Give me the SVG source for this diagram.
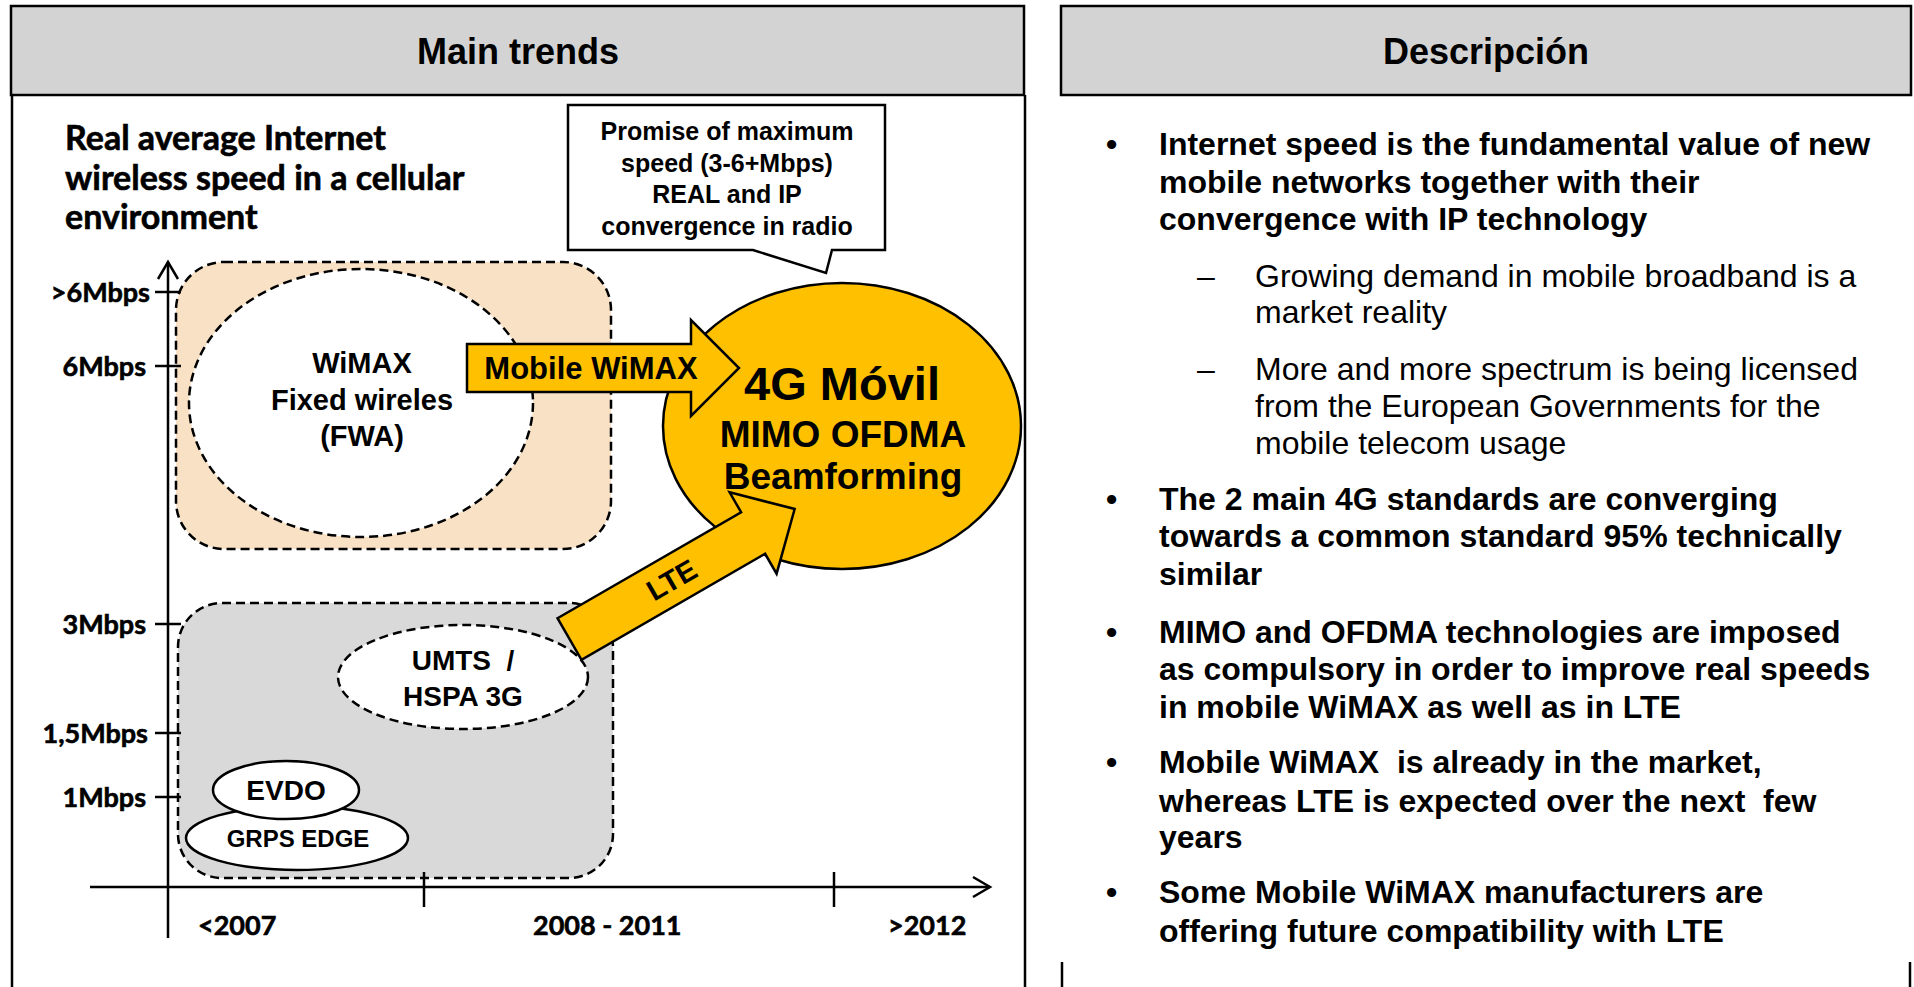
<svg xmlns="http://www.w3.org/2000/svg" width="1914" height="987" viewBox="0 0 1914 987" xml:space="preserve">
<style>
text{white-space:pre}
.hdr{fill:#D3D3D3;stroke:#000;stroke-width:2.5}
.ht{font-family:"Liberation Sans",Arial,sans-serif;font-weight:bold;font-size:36px;text-anchor:middle;fill:#000}
.ar{font-family:"Liberation Sans",Arial,sans-serif;font-weight:bold;fill:#000;text-anchor:middle}
.cal{font-family:Lato,"Open Sans",sans-serif;font-weight:bold;fill:#000;stroke:#000;stroke-width:0.6}
.dash{stroke:#000;stroke-width:2.5;stroke-dasharray:9 5}
.ln{stroke:#000;stroke-width:2.5;fill:none}
.org{fill:#FFC000;stroke:#000;stroke-width:2.5;stroke-linejoin:miter}
.bt{font-family:"Liberation Sans",Arial,sans-serif;font-weight:bold;font-size:32px;fill:#000}
.rt{font-family:"Liberation Sans",Arial,sans-serif;font-size:32px;fill:#000}
</style>
<rect width="1914" height="987" fill="#fff"/>

<g id="left-panel">
  <rect class="hdr" x="11" y="6" width="1013" height="89"/>
  <text class="ht" x="518" y="64">Main trends</text>
  <line class="ln" x1="12" y1="95" x2="12" y2="987"/>
  <line class="ln" x1="1025" y1="95" x2="1025" y2="987"/>
</g>

<g id="right-panel">
  <rect class="hdr" x="1061" y="6" width="850" height="89"/>
  <text class="ht" x="1486" y="64">Descripción</text>
  <line class="ln" x1="1062" y1="962" x2="1062" y2="987"/>
  <line class="ln" x1="1910" y1="962" x2="1910" y2="987"/>
</g>

<g id="chart-title">
  <text class="cal" font-size="34" x="65" y="150">Real average Internet</text>
  <text class="cal" font-size="34" x="65" y="190">wireless speed in a cellular</text>
  <text class="cal" font-size="34" x="65" y="229">environment</text>
</g>

<g id="region-wimax">
  <rect x="176" y="262" width="435" height="287" rx="48" ry="48" fill="#F8E1C4" class="dash"/>
</g>
<g id="node-wimax">
  <ellipse cx="361" cy="403" rx="172" ry="134" fill="#fff" class="dash"/>
  <text class="ar" font-size="29" x="362" y="373">WiMAX</text>
  <text class="ar" font-size="29" x="362" y="410">Fixed wireles</text>
  <text class="ar" font-size="29" x="362" y="446">(FWA)</text>
</g>

<g id="region-3g">
  <rect x="178" y="603" width="435" height="275" rx="44" ry="44" fill="#D9D9D9" class="dash"/>
</g>
<g id="node-umts">
  <ellipse cx="463" cy="677" rx="125" ry="52" fill="#fff" class="dash"/>
  <text class="ar" font-size="28" x="463" y="670">UMTS  /</text>
  <text class="ar" font-size="28" x="463" y="706">HSPA 3G</text>
</g>
<g id="node-grps">
  <ellipse cx="297" cy="838" rx="111" ry="32" fill="#fff" stroke="#000" stroke-width="2.5"/>
  <text class="ar" font-size="24" x="298" y="847">GRPS EDGE</text>
</g>
<g id="node-evdo">
  <ellipse cx="286" cy="790" rx="73" ry="29" fill="#fff" stroke="#000" stroke-width="2.5"/>
  <text class="ar" font-size="28" x="286" y="800">EVDO</text>
</g>

<g id="axes">
  <line class="ln" x1="168" y1="262" x2="168" y2="938"/>
  <polyline class="ln" points="158,279 168,262 178,279"/>
  <line class="ln" x1="90" y1="887" x2="990" y2="887"/>
  <polyline class="ln" points="973,877 990,887 973,897"/>
  <line class="ln" x1="424" y1="872" x2="424" y2="907"/>
  <line class="ln" x1="834" y1="872" x2="834" y2="907"/>
  <line class="ln" x1="155" y1="292" x2="181" y2="292"/>
  <line class="ln" x1="155" y1="366" x2="181" y2="366"/>
  <line class="ln" x1="155" y1="624" x2="181" y2="624"/>
  <line class="ln" x1="155" y1="733" x2="181" y2="733"/>
  <line class="ln" x1="155" y1="797" x2="181" y2="797"/>
  <g class="cal" font-size="27" text-anchor="end">
    <text x="150" y="302">&gt;6Mbps</text>
    <text x="146" y="376">6Mbps</text>
    <text x="146" y="634">3Mbps</text>
    <text x="148" y="743">1,5Mbps</text>
    <text x="146" y="807">1Mbps</text>
  </g>
  <g class="cal" font-size="27">
    <text x="198" y="935">&lt;2007</text>
    <text x="533" y="935">2008 - 2011</text>
    <text x="888" y="935">&gt;2012</text>
  </g>
</g>

<g id="node-callout">
  <polygon points="568,105 885,105 885,250 832,250 826,273 753,250 568,250" fill="#fff" stroke="#000" stroke-width="2.5"/>
  <text class="ar" font-size="25" x="727" y="140">Promise of maximum</text>
  <text class="ar" font-size="25" x="727" y="172">speed (3-6+Mbps)</text>
  <text class="ar" font-size="25" x="727" y="203">REAL and IP</text>
  <text class="ar" font-size="25" x="727" y="235">convergence in radio</text>
</g>

<g id="node-4g">
  <ellipse cx="842" cy="426" rx="179" ry="143" fill="#FFC000" stroke="#000" stroke-width="2.5"/>
</g>

<g id="connectors">
  <polygon class="org" points="467,344 691,344 691,320 739,368 691,416 691,392 467,392"/>
  <text class="ar" font-size="31" x="591" y="379">Mobile WiMAX</text>
  <g transform="translate(569.5,639) rotate(-30)">
    <polygon class="org" points="0,-24 212,-24 212,-47 260,0 212,47 212,24 0,24"/>
    <text class="ar" font-size="29" x="118" y="10">LTE</text>
  </g>
</g>

<g id="node-4g-label">
  <text class="ar" font-size="47" x="842" y="400">4G Móvil</text>
  <text class="ar" font-size="37" x="843" y="447">MIMO OFDMA</text>
  <text class="ar" font-size="37" x="843" y="489">Beamforming</text>
</g>

<g id="description">
  <text class="bt" x="1106" y="155">•</text>
  <text class="bt" x="1159" y="155">Internet speed is the fundamental value of new</text>
  <text class="bt" x="1159" y="193">mobile networks together with their</text>
  <text class="bt" x="1159" y="230">convergence with IP technology</text>
  <text class="rt" x="1197" y="287">–</text>
  <text class="rt" x="1255" y="287">Growing demand in mobile broadband is a</text>
  <text class="rt" x="1255" y="323">market reality</text>
  <text class="rt" x="1197" y="380">–</text>
  <text class="rt" x="1255" y="380">More and more spectrum is being licensed</text>
  <text class="rt" x="1255" y="417">from the European Governments for the</text>
  <text class="rt" x="1255" y="454">mobile telecom usage</text>
  <text class="bt" x="1106" y="510">•</text>
  <text class="bt" x="1159" y="510">The 2 main 4G standards are converging</text>
  <text class="bt" x="1159" y="547">towards a common standard 95% technically</text>
  <text class="bt" x="1159" y="585">similar</text>
  <text class="bt" x="1106" y="643">•</text>
  <text class="bt" x="1159" y="643">MIMO and OFDMA technologies are imposed</text>
  <text class="bt" x="1159" y="680">as compulsory in order to improve real speeds</text>
  <text class="bt" x="1159" y="718">in mobile WiMAX as well as in LTE</text>
  <text class="bt" x="1106" y="773">•</text>
  <text class="bt" x="1159" y="773">Mobile WiMAX  is already in the market,</text>
  <text class="bt" x="1159" y="812">whereas LTE is expected over the next  few</text>
  <text class="bt" x="1159" y="848">years</text>
  <text class="bt" x="1106" y="903">•</text>
  <text class="bt" x="1159" y="903">Some Mobile WiMAX manufacturers are</text>
  <text class="bt" x="1159" y="942">offering future compatibility with LTE</text>
</g>
</svg>
